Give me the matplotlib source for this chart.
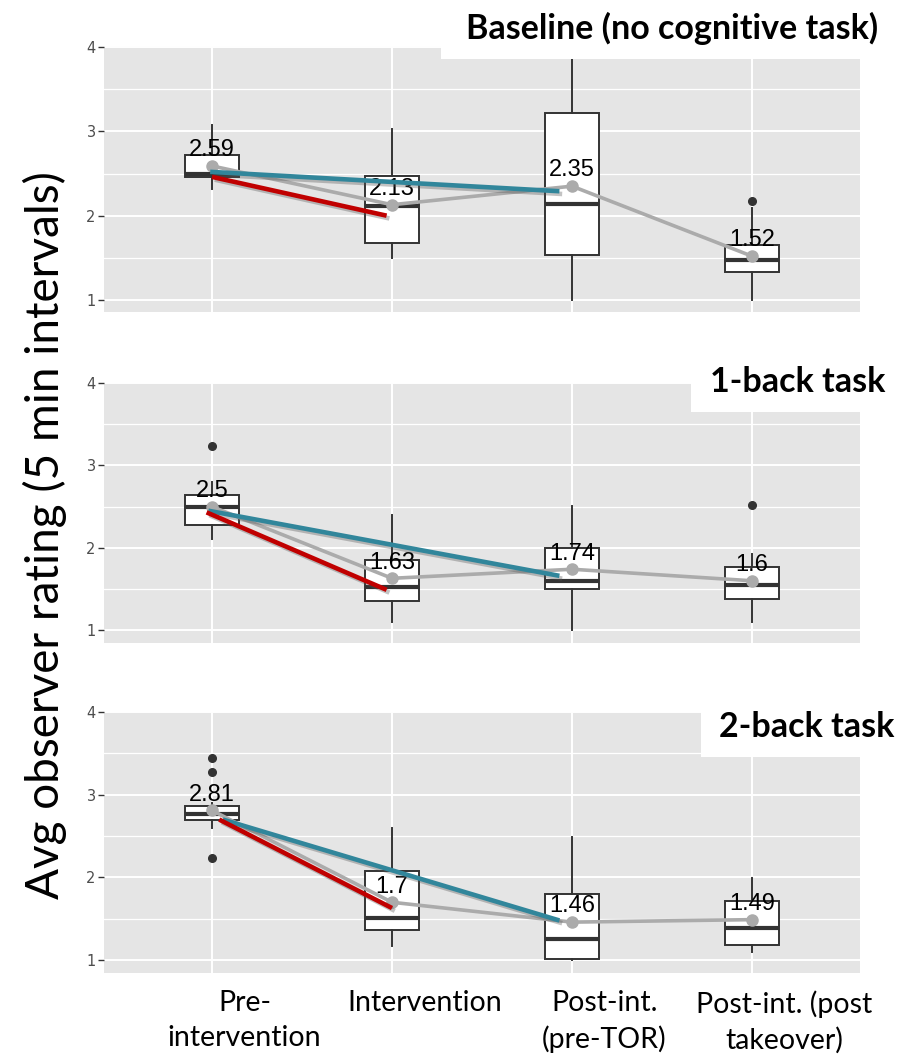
import matplotlib
matplotlib.use("Agg")
import matplotlib.pyplot as plt
import matplotlib.patheffects as pe
from matplotlib.patches import Rectangle
import numpy as np

# categories / x labels
categories = ["Pre-\nintervention", "Intervention", "Post-int.\n(pre-TOR)", "Post-int. (post\ntakeover)"]
panel_titles = ["Baseline (no cognitive task)", "1-back task", "2-back task"]

# box statistics per panel
base_q1 = [2.46, 1.68, 1.53, 1.33]
base_med = [2.49, 2.12, 2.14, 1.47]
base_q3 = [2.72, 2.47, 3.22, 1.65]
base_lo = [2.32, 1.50, 1.00, 1.00]
base_hi = [3.08, 3.03, 3.95, 2.09]
base_fliers = [[], [], [], [2.17]]
base_means = [2.59, 2.13, 2.35, 1.52]

one_q1 = [2.28, 1.36, 1.50, 1.38]
one_med = [2.50, 1.52, 1.60, 1.55]
one_q3 = [2.64, 1.85, 2.00, 1.77]
one_lo = [2.11, 1.10, 1.00, 1.10]
one_hi = [2.80, 2.40, 2.51, 1.92]
one_fliers = [[3.23], [], [], [2.52]]
one_means = [2.5, 1.63, 1.74, 1.6]

two_q1 = [2.70, 1.37, 1.02, 1.18]
two_med = [2.77, 1.51, 1.26, 1.39]
two_q3 = [2.86, 2.08, 1.80, 1.71]
two_lo = [2.60, 1.17, 1.00, 1.10]
two_hi = [2.90, 2.60, 2.49, 1.99]
two_fliers = [[3.44, 3.27, 2.23], [], [], []]
two_means = [2.81, 1.7, 1.46, 1.49]

# trend lines drawn over each panel (x in category units, y in rating)
base_red_x, base_red_y = [1.0, 1.97], [2.46, 2.0]
base_blue_x, base_blue_y = [0.99, 2.93], [2.52, 2.29]
one_red_x, one_red_y = [0.97, 1.97], [2.43, 1.49]
one_blue_x, one_blue_y = [0.98, 2.93], [2.45, 1.66]
two_red_x, two_red_y = [1.04, 2.0], [2.70, 1.63]
two_blue_x, two_blue_y = [1.06, 2.93], [2.70, 1.48]

panels = [
    (base_q1, base_med, base_q3, base_lo, base_hi, base_fliers, base_means,
     base_red_x, base_red_y, base_blue_x, base_blue_y),
    (one_q1, one_med, one_q3, one_lo, one_hi, one_fliers, one_means,
     one_red_x, one_red_y, one_blue_x, one_blue_y),
    (two_q1, two_med, two_q3, two_lo, two_hi, two_fliers, two_means,
     two_red_x, two_red_y, two_blue_x, two_blue_y),
]

W, H = 899, 1057
fig = plt.figure(figsize=(W / 100, H / 100), dpi=100)

# axes boxes in pixels: (top, bottom) and y limits
ax_rows = [(46, 312), (383, 643), (712, 973)]
ylims = [(0.858, 4.012), (0.845, 3.95), (0.845, 3.95)]
left_px, right_px = 104, 860

RED = "#C00000"
BLUE = "#31869B"
GRAY = "#ABABAB"
shadow = [pe.SimpleLineShadow(offset=(2, -2), alpha=0.35, shadow_color="#555555"), pe.Normal()]

axes = []
for i, p in enumerate(panels):
    q1, med, q3, lo, hi, fl, means, rx, ry, bx, by = p
    top, bot = ax_rows[i]
    ax = fig.add_axes([left_px / W, 1 - bot / H, (right_px - left_px) / W, (bot - top) / H])
    axes.append(ax)
    ax.set_facecolor("#E5E5E5")
    for s in ax.spines.values():
        s.set_visible(False)

    stats = []
    for k in range(4):
        stats.append(dict(q1=q1[k], med=med[k], q3=q3[k], whislo=lo[k], whishi=hi[k], fliers=fl[k]))
    ax.bxp(stats, positions=[1, 2, 3, 4], widths=0.3, showcaps=False, patch_artist=True,
           boxprops=dict(facecolor="white", edgecolor="#333333", linewidth=1.4),
           whiskerprops=dict(color="#333333", linewidth=1.4),
           medianprops=dict(color="#333333", linewidth=3.0, solid_capstyle="butt"),
           flierprops=dict(marker="o", markerfacecolor="#333333", markeredgecolor="#333333", markersize=5.5),
           zorder=3)

    xs = np.arange(1, 5)
    ax.plot(xs, means, color=GRAY, lw=2.6, marker="o", markersize=8, zorder=4)
    for x, m in zip(xs, means):
        ax.annotate(f"{m:g}", (x, m), xytext=(0, 7), textcoords="offset points",
                    ha="center", va="baseline", fontsize=17, family="Liberation Sans", zorder=5)

    ax.plot(bx, by, color=BLUE, lw=3.3, solid_capstyle="butt", path_effects=shadow, zorder=6)
    ax.plot(rx, ry, color=RED, lw=3.3, solid_capstyle="butt", path_effects=shadow, zorder=6)

    ax.set_xlim(0.4, 4.6)
    ax.set_ylim(*ylims[i])
    ax.set_yticks([1, 2, 3, 4])
    ax.set_yticks([1.5, 2.5, 3.5], minor=True)
    ax.set_xticks([1, 2, 3, 4])
    ax.set_xticklabels([])
    ax.tick_params(axis="x", length=0)
    ax.tick_params(axis="y", which="major", length=4, width=1, color="#333333",
                   labelsize=10.5, labelcolor="#4D4D4D", pad=2)
    ax.tick_params(axis="y", which="minor", length=0)
    ax.grid(True, which="major", color="white", lw=1.4)
    ax.grid(True, which="minor", axis="y", color="white", lw=0.9)
    ax.set_axisbelow(True)

# x labels (placed a little right of the categories, as in the original)
for k, lab in enumerate(categories):
    axes[2].text(k + 1 + 0.18, -0.065, lab, transform=axes[2].get_xaxis_transform(),
                 ha="center", va="top", fontsize=20.5, family="Lato", linespacing=1.42)

# white title boxes covering the top right corners
title_boxes = [(441, 0, 899, 59), (691, 330, 899, 412), (701, 695, 899, 757)]
title_pos = [(672, 39), (798, 392), (807, 737)]
for (x0, y0, x1, y1), (tx, ty), t in zip(title_boxes, title_pos, panel_titles):
    fig.patches.append(Rectangle((x0 / W, 1 - y1 / H), (x1 - x0) / W, (y1 - y0) / H,
                                 transform=fig.transFigure, facecolor="white", edgecolor="none", zorder=10))
    fig.text(tx / W, 1 - ty / H, t, ha="center", va="baseline", fontsize=24.5,
             fontweight="bold", family="Lato", zorder=11)

fig.text(45 / W, 1 - 535 / H, "Avg observer rating (5 min intervals)", rotation=90,
         ha="center", va="center", fontsize=33, family="Lato")

fig.savefig("out.png", dpi=100)
